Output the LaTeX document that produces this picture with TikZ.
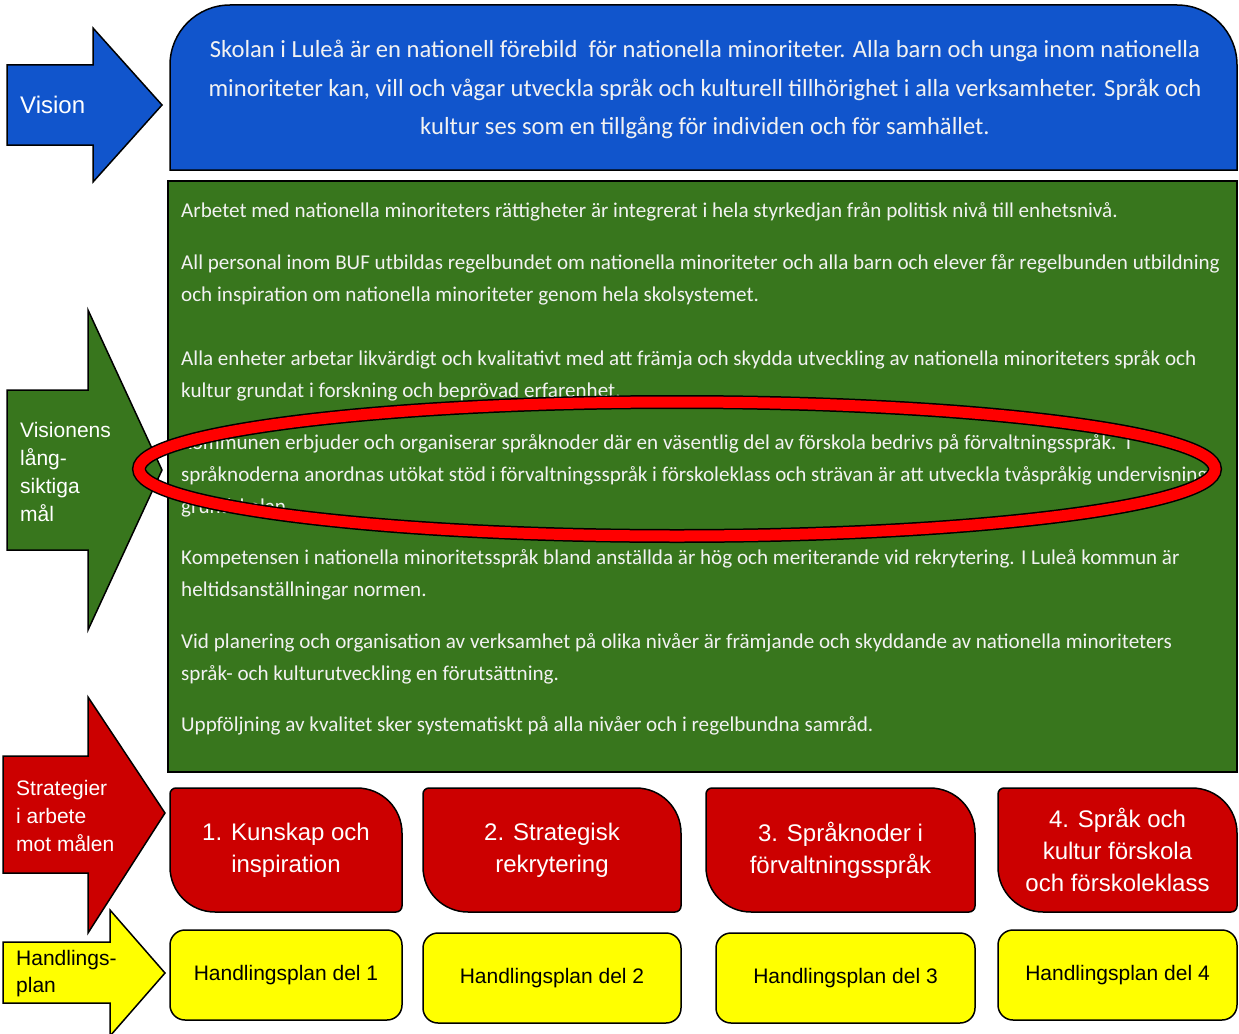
\documentclass[tikz,border=0pt]{standalone}
\usepackage{fontspec}
\setmainfont{Liberation Sans}
\newfontfamily\calibri{Carlito}
\definecolor{visionblue}{RGB}{17,85,204}
\definecolor{goalgreen}{RGB}{56,118,29}
\definecolor{stratred}{RGB}{204,0,0}
\definecolor{planyellow}{RGB}{255,255,0}
\definecolor{paletext}{RGB}{242,242,242}
\tikzset{
  outline/.style={draw=black, line width=1.5pt},
  visiontext/.style={font=\calibri\fontsize{24.6}{38}\selectfont, text=paletext, anchor=base, inner sep=0pt},
  bodytext/.style={font=\calibri\fontsize{21.1}{32}\selectfont, text=paletext, anchor=base west, inner sep=0pt},
  sidelabel/.style={text=white, align=left, inner sep=0pt, anchor=west, font=\fontsize{21}{28}\selectfont},
  stratlabel/.style={text=white, align=center, inner sep=0pt, font=\fontsize{24}{32}\selectfont},
  planlabel/.style={text=black, inner sep=0pt, font=\fontsize{21}{25}\selectfont},
}
\begin{document}
\begin{tikzpicture}[x=1pt, y=-1pt]
    \useasboundingbox (0,0) rectangle (1239,1033);
    \fill[white] (0,0) rectangle (1239,1033);

    \draw[outline, fill=visionblue] (7,65) -- (93,65) -- (93,28) -- (162,105) -- (93,182) -- (93,145) -- (7,145) -- cycle;
    \draw[outline, fill=goalgreen] (7,390) -- (88,390) -- (88,310) -- (162,470) -- (88,630) -- (88,550) -- (7,550) -- cycle;
    \draw[outline, fill=stratred] (3,756) -- (88,756) -- (88,697) -- (165,813) -- (88,933) -- (88,873) -- (3,873) -- cycle;
    \draw[outline, fill=planyellow] (3,942) -- (110,942) -- (110,910) -- (165,973) -- (110,1036) -- (110,1003) -- (3,1003) -- cycle;

    \node[sidelabel, font=\fontsize{24}{28}\selectfont] (lvision) at (20,105) {Vision};
    \node[sidelabel] (lgoals) at (20,472) {Visionens\\lång-\\siktiga\\mål};
    \node[sidelabel] (lstrat) at (16,816) {Strategier\\i arbete\\mot målen};
    \node[sidelabel, text=black, font=\fontsize{21}{27}\selectfont] (lplan) at (16,974) {Handlings-\\plan};

    \draw[outline, fill=visionblue] (170,170) [rounded corners=60pt] -- (170,5) -- (1237,5) [sharp corners] -- (1237,170) -- cycle;
    \node[visiontext] (v1) at (705,58) {Skolan i Luleå är en nationell förebild\ \ för nationella minoriteter. Alla barn och unga inom nationella};
    \node[visiontext] (v2) at (705,96) {minoriteter kan, vill och vågar utveckla språk och kulturell tillhörighet i alla verksamheter. Språk och};
    \node[visiontext] (v3) at (705,134) {kultur ses som en tillgång för individen och för samhället.};

    \draw[outline, fill=goalgreen] (168,181) rectangle (1237,772);
    \foreach \yy/\txt [count=\i] in {
        217/{Arbetet med nationella minoriteters rättigheter är integrerat i hela styrkedjan från politisk nivå till enhetsnivå.},
        269/{All personal inom BUF utbildas regelbundet om nationella minoriteter och alla barn och elever får regelbunden utbildning},
        301/{och inspiration om nationella minoriteter genom hela skolsystemet.},
        365/{Alla enheter arbetar likvärdigt och kvalitativt med att främja och skydda utveckling av nationella minoriteters språk och},
        397/{kultur grundat i forskning och beprövad erfarenhet.},
        449/{Kommunen erbjuder och organiserar språknoder där en väsentlig del av förskola bedrivs på förvaltningsspråk.\ \ I},
        481/{språknoderna anordnas utökat stöd i förvaltningsspråk i förskoleklass och strävan är att utveckla tvåspråkig undervisning i},
        513/{grundskolan.},
        564/{Kompetensen i nationella minoritetsspråk bland anställda är hög och meriterande vid rekrytering. I Luleå kommun är},
        596/{heltidsanställningar normen.},
        648/{Vid planering och organisation av verksamhet på olika nivåer är främjande och skyddande av nationella minoriteters},
        680/{språk- och kulturutveckling en förutsättning.},
        731/{Uppföljning av kvalitet sker systematiskt på alla nivåer och i regelbundna samråd.}} {
            \node[bodytext] (g\i) at (181,\yy) {\txt};
        }

    \draw[draw=black, line width=1.5pt, double=red, double distance=11pt] (677,469) ellipse [x radius=538pt, y radius=67pt];

    \foreach \xa/\xb/\txt [count=\i] in {
        170/402/{1. Kunskap och\\inspiration},
        423/681/{2. Strategisk\\rekrytering},
        706/975/{3. Språknoder i\\förvaltningsspråk},
        998/1237/{4. Språk och\\kultur förskola\\och förskoleklass}} {
            \draw[outline, fill=stratred] ({(\xa+\xb)/2},788) [rounded corners=45pt] -- (\xb,788) [rounded corners=6pt] -- (\xb,912) [rounded corners=45pt] -- (\xa,912) [rounded corners=6pt] -- (\xa,788) [sharp corners] -- cycle;
            \node[stratlabel] (s\i) at ({(\xa+\xb)/2},850) {\txt};
        }

    \foreach \xa/\xb/\ya/\yb [count=\i] in {170/402/930/1020, 423/681/933/1023, 716/975/933/1023, 998/1237/930/1020} {
            \draw[outline, fill=planyellow, rounded corners=15pt] (\xa,\ya) rectangle (\xb,\yb);
            \node[planlabel] (h\i) at ({(\xa+\xb)/2},{(\ya+\yb)/2}) {Handlingsplan del \i};
        }
\end{tikzpicture}
\end{document}
